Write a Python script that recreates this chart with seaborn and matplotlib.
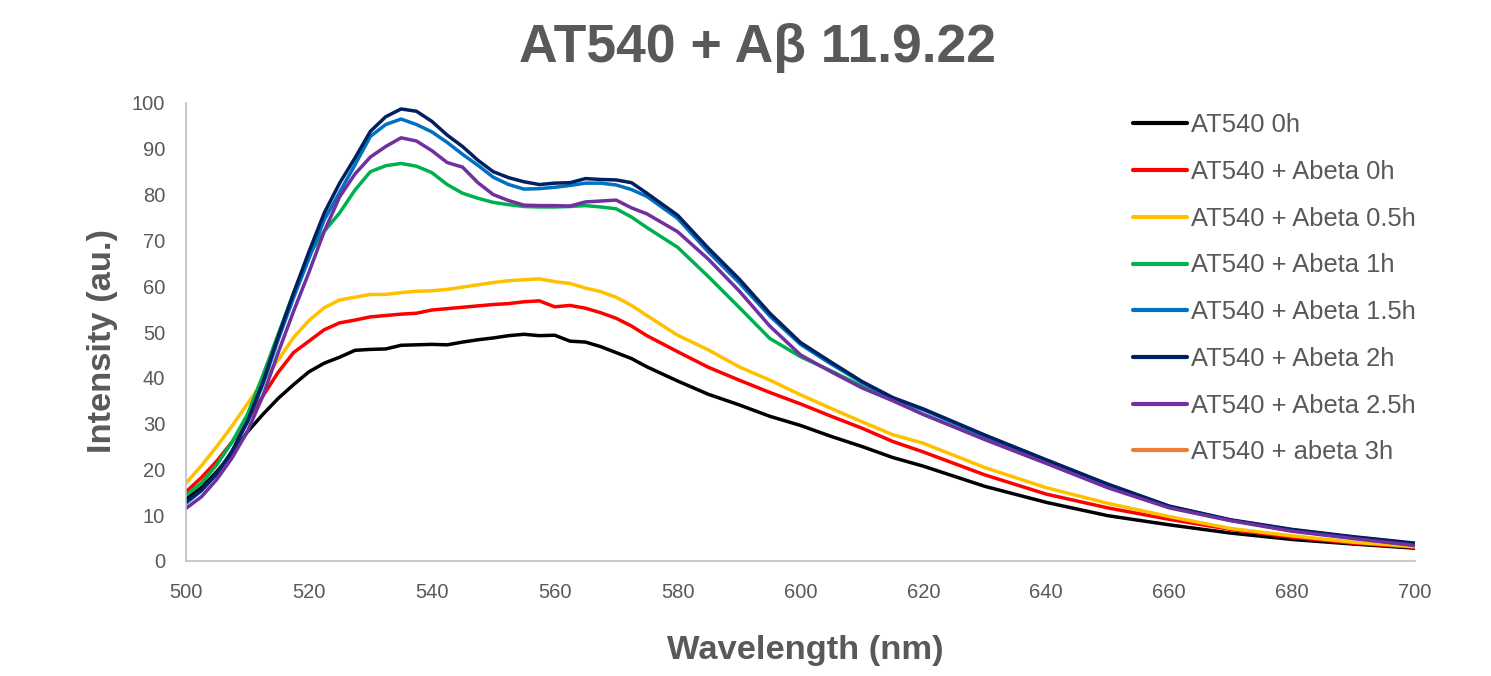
import numpy as np
import pandas as pd
import matplotlib
matplotlib.use("Agg")
import matplotlib.pyplot as plt
from matplotlib.lines import Line2D
import seaborn as sns

sns.set_style("white")
plt.rcParams['font.family'] = ['Liberation Sans', 'DejaVu Sans']

# wavelength grid (nm)
wavelength = [500, 502.5, 505, 507.5, 510, 512.5, 515, 517.5, 520, 522.5, 525, 527.5,
              530, 532.5, 535, 537.5, 540, 542.5, 545, 547.5, 550, 552.5, 555, 557.5,
              560, 562.5, 565, 567.5, 570, 572.5, 575, 580, 585, 590, 595, 600, 605,
              610, 615, 620, 630, 640, 650, 660, 670, 680, 690, 700]

at540_0h = [13.5, 16, 19.5, 23.5, 28.2, 32, 35.5, 38.5, 41.3, 43.2, 44.5, 46,
            46.2, 46.3, 47.1, 47.2, 47.3, 47.2, 47.8, 48.3, 48.7, 49.2, 49.5, 49.2,
            49.3, 48.0, 47.8, 46.8, 45.5, 44.2, 42.4, 39.3, 36.4, 34.1, 31.6, 29.6, 27.2,
            25.0, 22.6, 20.7, 16.3, 12.8, 9.9, 7.9, 6.1, 4.7, 3.7, 2.8]

abeta_0h = [15.1, 18.2, 21.8, 26, 30.8, 36, 41.2, 45.5, 48, 50.5, 52, 52.6,
            53.3, 53.6, 53.9, 54.1, 54.8, 55.1, 55.4, 55.7, 56.0, 56.2, 56.6, 56.8,
            55.5, 55.8, 55.2, 54.2, 53.0, 51.3, 49.2, 45.7, 42.3, 39.5, 36.8, 34.3, 31.6,
            29.0, 26.1, 23.8, 18.8, 14.6, 11.6, 9.1, 6.9, 5.2, 3.9, 3.0]

abeta_05h = [17, 20.8, 25, 29.5, 34.3, 39.2, 43.9, 48.8, 52.5, 55.3, 57, 57.6,
             58.2, 58.2, 58.6, 58.9, 59.0, 59.3, 59.8, 60.3, 60.8, 61.2, 61.4, 61.6,
             61.0, 60.6, 59.6, 58.8, 57.6, 55.8, 53.6, 49.3, 46.1, 42.4, 39.5, 36.3, 33.3,
             30.4, 27.6, 25.7, 20.4, 16.0, 12.6, 9.7, 7.1, 5.5, 4.1, 3.1]

abeta_1h = [14.4, 17, 21, 26, 32, 40.5, 49.5, 58.5, 66.8, 72, 76, 81,
            85, 86.3, 86.8, 86.2, 84.8, 82.2, 80.3, 79.2, 78.3, 77.8, 77.4, 77.3,
            77.3, 77.4, 77.6, 77.3, 76.9, 75.1, 72.8, 68.5, 62.1, 55.4, 48.6, 44.6, 41.5,
            38.2, 35.1, 32.0, 26.7, 21.6, 16.1, 11.8, 8.9, 6.6, 5.0, 3.4]

abeta_15h = [12.6, 15.3, 19, 24, 30.3, 38.5, 48.3, 57.5, 66, 74.5, 80.5, 86.5,
             92.7, 95.3, 96.5, 95.3, 93.7, 91.4, 88.8, 86.4, 83.8, 82.2, 81.2, 81.3,
             81.6, 82.0, 82.5, 82.5, 82.1, 81.1, 79.6, 74.8, 67.5, 60.8, 53.5, 47.3, 43.0,
             39.0, 35.5, 33.0, 27.3, 21.9, 16.6, 11.9, 8.9, 6.8, 5.2, 3.8]

abeta_2h = [12.9, 15.5, 19, 24, 30.5, 39, 49, 58.5, 67.5, 76, 82.5, 88,
            93.8, 97, 98.7, 98.2, 96, 93, 90.5, 87.5, 85, 83.7, 82.8, 82.2,
            82.5, 82.6, 83.5, 83.3, 83.2, 82.6, 80.3, 75.5, 68.3, 61.6, 54.1, 47.7, 43.4,
            39.2, 35.7, 33.2, 27.5, 22.1, 16.8, 12.0, 9.0, 6.9, 5.3, 3.9]

abeta_25h = [11.5, 14, 17.8, 22.5, 28.3, 36, 45.5, 54.5, 63, 72, 79.5, 84.5,
             88.2, 90.5, 92.4, 91.7, 89.6, 87, 86, 82.6, 80, 78.7, 77.7, 77.6,
             77.6, 77.5, 78.4, 78.6, 78.8, 77.1, 75.8, 71.9, 65.9, 59.0, 51.3, 45.0, 41.3,
             37.8, 35.0, 32.0, 26.5, 21.3, 16.0, 11.6, 8.8, 6.5, 4.9, 3.4]

series_names = ["AT540 0h", "AT540 + Abeta 0h", "AT540 + Abeta 0.5h", "AT540 + Abeta 1h",
                "AT540 + Abeta 1.5h", "AT540 + Abeta 2h", "AT540 + Abeta 2.5h"]
series_values = [at540_0h, abeta_0h, abeta_05h, abeta_1h, abeta_15h, abeta_2h, abeta_25h]
colors = ["#000000", "#FF0000", "#FFC000", "#00B050", "#0070C0", "#002060", "#7030A0"]
# the 3h series shows up only in the legend
empty_name = "AT540 + abeta 3h"
empty_color = "#ED7D31"

df = pd.DataFrame({"wavelength": wavelength * len(series_names),
                   "intensity": sum(series_values, []),
                   "series": np.repeat(series_names, len(wavelength))})

gray = "#595959"
fig = plt.figure(figsize=(14.91, 6.76), dpi=100)
ax = fig.add_axes([186 / 1491, 1 - 561 / 676, (1415 - 186) / 1491, (561 - 103) / 676])

sns.lineplot(data=df, x="wavelength", y="intensity", hue="series",
             hue_order=series_names, palette=colors, linewidth=2.5, ax=ax, legend=False)

ax.set_xlim(500, 700)
ax.set_ylim(0, 100)
ax.set_xticks(range(500, 701, 20))
ax.set_yticks(range(0, 101, 10))
ax.tick_params(axis="both", length=0, labelsize=14.5, labelcolor=gray)
ax.tick_params(axis="y", pad=15)
ax.tick_params(axis="x", pad=16)
ax.set_xlabel("")
ax.set_ylabel("")
sns.despine(ax=ax)
for side in ["left", "bottom"]:
    ax.spines[side].set_color("#BFBFBF")
    ax.spines[side].set_linewidth(1.2)

handles = [Line2D([], [], color=c, lw=3) for c in colors] + [Line2D([], [], color=empty_color, lw=3)]
labels = series_names + [empty_name]
leg = fig.legend(handles, labels, loc="upper left", bbox_to_anchor=(1123 / 1491, 1 - 103 / 676),
                 frameon=False, fontsize=18.4, handlelength=2.1, handletextpad=0.15,
                 labelspacing=0.89, borderaxespad=0)
for t in leg.get_texts():
    t.set_color(gray)

fig.text(0.508, 0.929, "AT540 + Aβ 11.9.22", ha="center", va="center",
         fontsize=38.5, fontweight="bold", color=gray)
fig.text(0.54, 0.038, "Wavelength (nm)", ha="center", va="center",
         fontsize=24.8, fontweight="bold", color=gray)
fig.text(0.069, 0.495, "Intensity (au.)", ha="center", va="center", rotation=90,
         fontsize=24.8, fontweight="bold", color=gray)

fig.savefig("out.png", dpi=100)
